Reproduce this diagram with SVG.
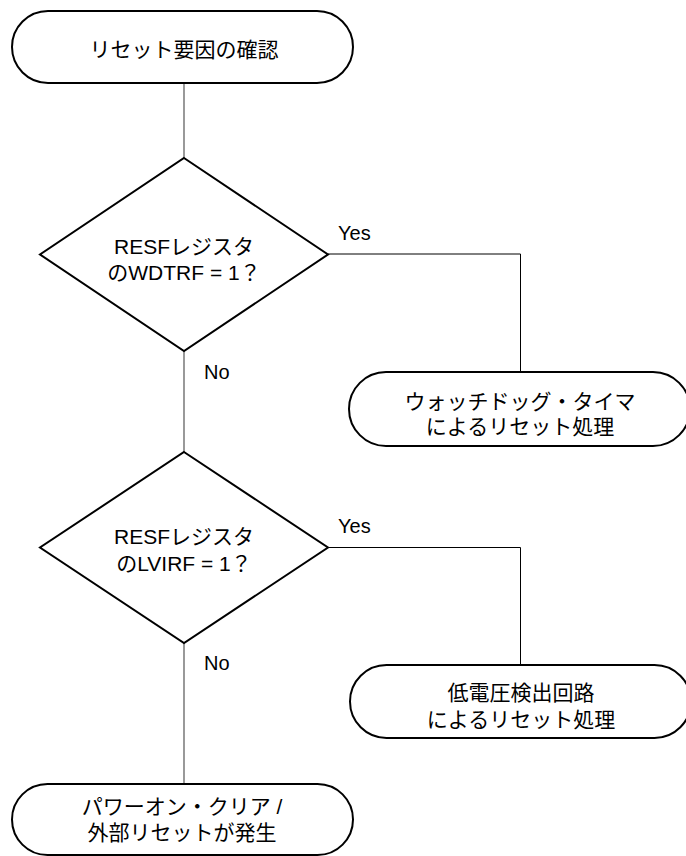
<svg xmlns="http://www.w3.org/2000/svg" width="686" height="856" viewBox="0 0 686 856">
<style>
.node{fill:#fff;stroke:#000;stroke-width:2}
.t{font-family:"Liberation Sans","Noto Sans CJK JP",sans-serif;font-size:21px;fill:#000;text-anchor:middle}
.lbl{font-family:"Liberation Sans","Noto Sans CJK JP",sans-serif;font-size:20px;fill:#000}
.main{stroke:#808080;stroke-width:1.6;fill:none}
.br{stroke:#000;stroke-width:1;fill:none}
</style>
<rect width="686" height="856" fill="#fff"/>
<g id="connectors">
<line class="main" x1="184" y1="83" x2="184" y2="158"/>
<line class="main" x1="184" y1="351" x2="184" y2="452"/>
<line class="main" x1="184" y1="643" x2="184" y2="784"/>
<polyline class="br" points="328,254 520.5,254 520.5,372"/>
<polyline class="br" points="328,547.5 520.5,547.5 520.5,665"/>
<text class="lbl" x="338" y="240">Yes</text>
<text class="lbl" x="204" y="379">No</text>
<text class="lbl" x="338" y="533">Yes</text>
<text class="lbl" x="204" y="670">No</text>
</g>
<g id="start">
<rect class="node" x="12" y="11" width="341" height="72" rx="36" ry="36"/>
<text class="t" x="184" y="57">リセット要因の確認</text>
</g>
<g id="dec1">
<polygon class="node" points="184,158 328,254.5 184,351 40,254.5"/>
<text class="t" x="184" y="254">RESFレジスタ</text>
<text class="t" x="184" y="280">のWDTRF = 1？</text>
</g>
<g id="wdt">
<rect class="node" x="349" y="372" width="341" height="74" rx="37" ry="37"/>
<text class="t" x="520" y="409">ウォッチドッグ・タイマ</text>
<text class="t" x="520" y="434">によるリセット処理</text>
</g>
<g id="dec2">
<polygon class="node" points="184,452 328,547.5 184,643 40,547.5"/>
<text class="t" x="184" y="544">RESFレジスタ</text>
<text class="t" x="184" y="571">のLVIRF = 1？</text>
</g>
<g id="lvi">
<rect class="node" x="350" y="665" width="341" height="73" rx="36.5" ry="36.5"/>
<text class="t" x="521" y="700">低電圧検出回路</text>
<text class="t" x="521" y="727">によるリセット処理</text>
</g>
<g id="por">
<rect class="node" x="12" y="784" width="341" height="71" rx="35.5" ry="35.5"/>
<text class="t" x="182" y="814">パワーオン・クリア /</text>
<text class="t" x="182" y="840">外部リセットが発生</text>
</g>
</svg>
